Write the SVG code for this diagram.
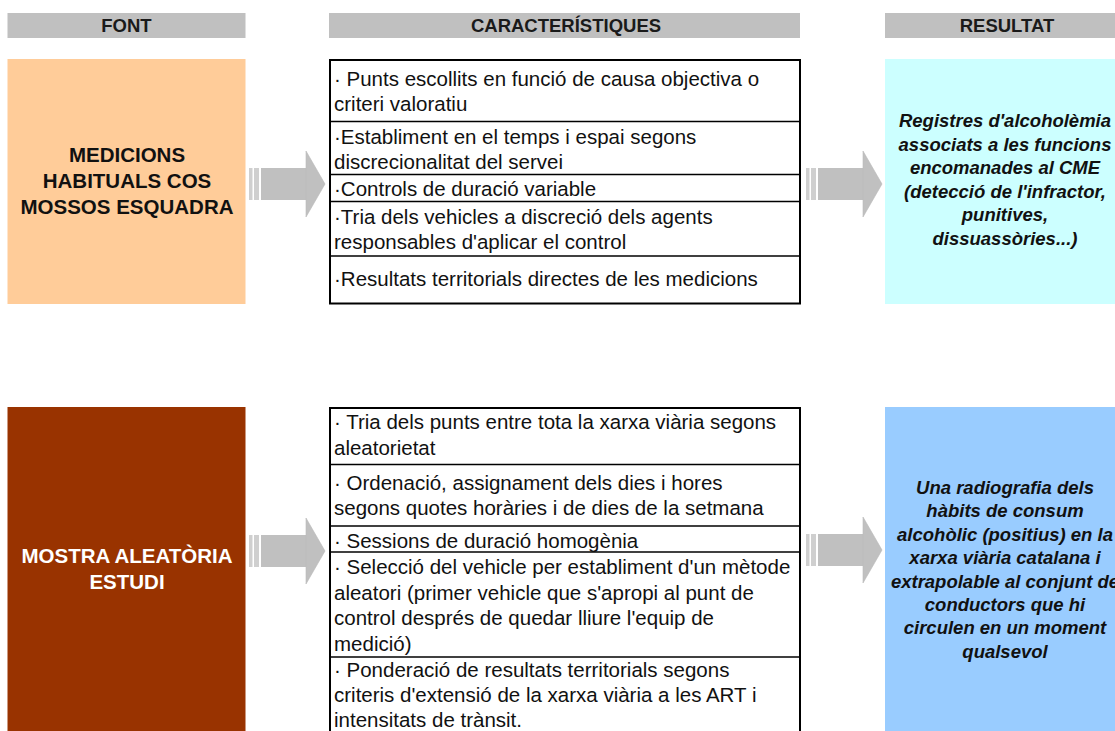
<svg xmlns="http://www.w3.org/2000/svg" width="1115" height="731" viewBox="0 0 1115 731">
<defs>
<style>
.hdr{fill:#c0c0c0}
.ht{font-family:"Liberation Sans",Arial,sans-serif;font-weight:bold;font-size:18.5px;fill:#1a1a1a;text-anchor:middle}
.lt{font-family:"Liberation Sans",Arial,sans-serif;font-weight:bold;font-size:20.5px;text-anchor:middle}
.mt{font-family:"Liberation Sans",Arial,sans-serif;font-size:20.5px;fill:#111}
.rt{font-family:"Liberation Sans",Arial,sans-serif;font-weight:bold;font-style:italic;font-size:18.5px;fill:#111;text-anchor:middle}
.box{fill:#fff;stroke:#000;stroke-width:2}
.sep{stroke:#000;stroke-width:1.3}
.arr{fill:#c0c0c0}
.arrs{fill:#cfcfcf}
</style>
<g id="arrowShape">
<rect class="arrs" x="0" y="-16" width="3.5" height="32"/>
<rect class="arrs" x="5" y="-16" width="5" height="32"/>
<rect class="arr" x="12" y="-16" width="46" height="32"/>
<polygon class="arr" points="57,-33 76,0 57,33" stroke="#b8b8b8" stroke-width="0.6"/>
</g>
</defs>
<rect width="1115" height="731" fill="#fff"/>

<g id="headers">
<rect class="hdr" x="7.5" y="13" width="238" height="25"/>
<text class="ht" x="126.5" y="31.5">FONT</text>
<rect class="hdr" x="329" y="13" width="471" height="25"/>
<text class="ht" x="566" y="31.5">CARACTERÍSTIQUES</text>
<rect class="hdr" x="885" y="13" width="235" height="25"/>
<text class="ht" x="1007" y="31.5">RESULTAT</text>
</g>

<g id="font1">
<rect x="7.5" y="59" width="238" height="245" fill="#ffcc99"/>
<text class="lt" fill="#111" x="127" y="161.5">MEDICIONS</text>
<text class="lt" fill="#111" x="127" y="187.5">HABITUALS COS</text>
<text class="lt" fill="#111" x="127" y="213.5">MOSSOS ESQUADRA</text>
</g>

<g id="caract1">
<rect class="box" x="330" y="60" width="470" height="243.5"/>
<line class="sep" x1="330" y1="121.5" x2="800" y2="121.5"/>
<line class="sep" x1="330" y1="174.5" x2="800" y2="174.5"/>
<line class="sep" x1="330" y1="201.5" x2="800" y2="201.5"/>
<line class="sep" x1="330" y1="256" x2="800" y2="256"/>
<text class="mt" x="334" y="86">· Punts escollits en funció de causa objectiva o</text>
<text class="mt" x="334" y="111">criteri valoratiu</text>
<text class="mt" x="334" y="143.5">·Establiment en el temps i espai segons</text>
<text class="mt" x="334" y="168.5">discrecionalitat del servei</text>
<text class="mt" x="334" y="195.5">·Controls de duració variable</text>
<text class="mt" x="334" y="224">·Tria dels vehicles a discreció dels agents</text>
<text class="mt" x="334" y="249">responsables d'aplicar el control</text>
<text class="mt" x="334" y="286">·Resultats territorials directes de les medicions</text>
</g>

<g id="result1">
<rect x="885" y="59" width="235" height="245" fill="#ccffff"/>
<text class="rt" x="1005" y="127">Registres d'alcoholèmia</text>
<text class="rt" x="1005" y="150.5">associats a les funcions</text>
<text class="rt" x="1005" y="174">encomanades al CME</text>
<text class="rt" x="1005" y="197.5">(detecció de l'infractor,</text>
<text class="rt" x="1005" y="221">punitives,</text>
<text class="rt" x="1005" y="244.5">dissuassòries...)</text>
</g>

<g id="font2">
<rect x="7.5" y="407" width="238" height="330" fill="#993300"/>
<text class="lt" fill="#fff" x="127" y="563">MOSTRA ALEATÒRIA</text>
<text class="lt" fill="#fff" x="127" y="588.5">ESTUDI</text>
</g>

<g id="caract2">
<rect class="box" x="330" y="408" width="470" height="340"/>
<line class="sep" x1="330" y1="464.5" x2="800" y2="464.5"/>
<line class="sep" x1="330" y1="526" x2="800" y2="526"/>
<line class="sep" x1="330" y1="552" x2="800" y2="552"/>
<line class="sep" x1="330" y1="657" x2="800" y2="657"/>
<text class="mt" x="334" y="429">· Tria dels punts entre tota la xarxa viària segons</text>
<text class="mt" x="334" y="454.5">aleatorietat</text>
<text class="mt" x="334" y="489.5">· Ordenació, assignament dels dies i hores</text>
<text class="mt" x="334" y="515">segons quotes horàries i de dies de la setmana</text>
<text class="mt" x="334" y="547.5">· Sessions de duració homogènia</text>
<text class="mt" x="334" y="574">· Selecció del vehicle per establiment d'un mètode</text>
<text class="mt" x="334" y="599.5">aleatori (primer vehicle que s'apropi al punt de</text>
<text class="mt" x="334" y="625">control després de quedar lliure l'equip de</text>
<text class="mt" x="334" y="650.5">medició)</text>
<text class="mt" x="334" y="677">· Ponderació de resultats territorials segons</text>
<text class="mt" x="334" y="702">criteris d'extensió de la xarxa viària a les ART i</text>
<text class="mt" x="334" y="727">intensitats de trànsit.</text>
</g>

<g id="result2">
<rect x="885" y="407" width="235" height="330" fill="#99ccff"/>
<text class="rt" x="1005" y="494">Una radiografia dels</text>
<text class="rt" x="1005" y="517.4">hàbits de consum</text>
<text class="rt" x="1005" y="540.8">alcohòlic (positius) en la</text>
<text class="rt" x="1005" y="564.2">xarxa viària catalana i</text>
<text class="rt" x="1005" y="587.6">extrapolable al conjunt de</text>
<text class="rt" x="1005" y="611">conductors que hi</text>
<text class="rt" x="1005" y="634.4">circulen en un moment</text>
<text class="rt" x="1005" y="657.8">qualsevol</text>
</g>

<g id="connectors">
<use href="#arrowShape" transform="translate(249,184)"/>
<use href="#arrowShape" transform="translate(806,184)"/>
<use href="#arrowShape" transform="translate(249,551)"/>
<use href="#arrowShape" transform="translate(806,550)"/>
</g>
</svg>
